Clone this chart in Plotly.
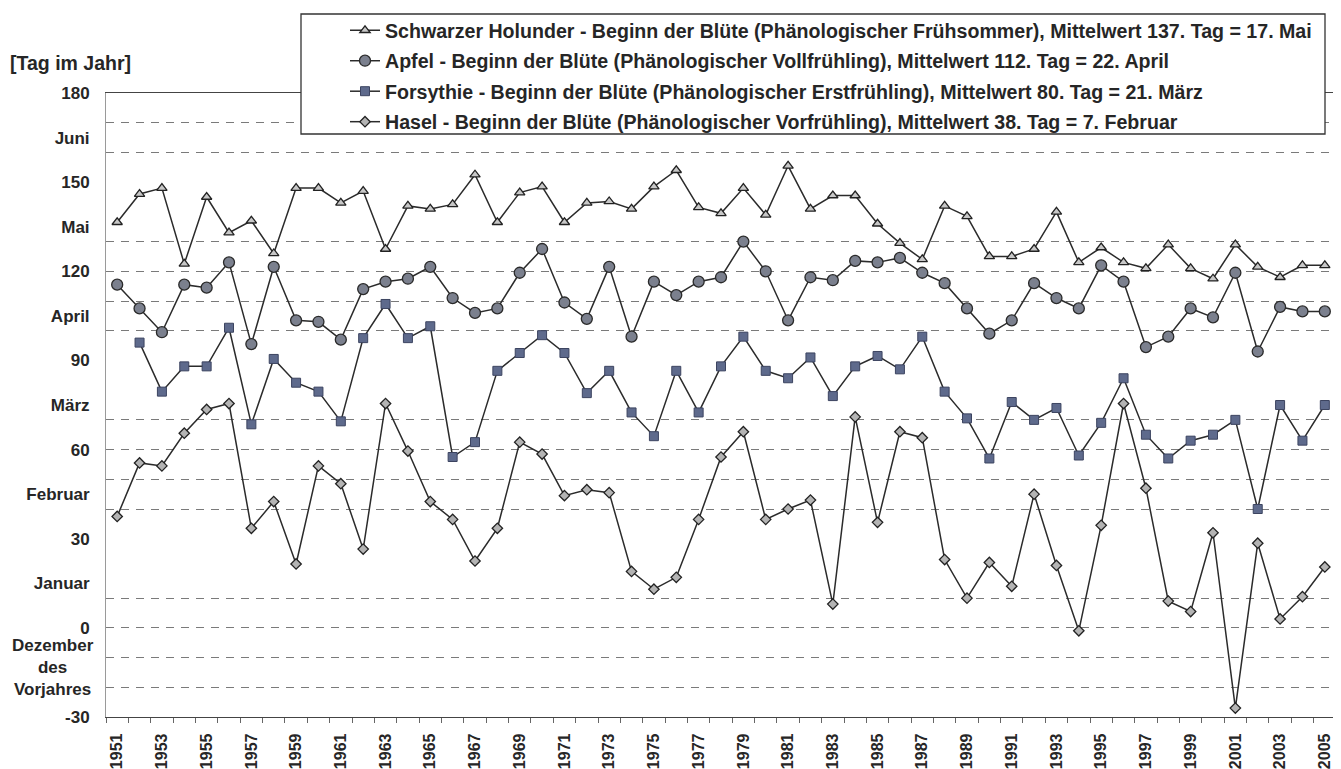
import plotly.graph_objects as go

years = list(range(1951, 2006))

holunder = [136.5, 146, 148, 122.5, 145, 133, 137, 126, 148, 148,
            143, 147, 127.5, 142, 141, 142.5, 152.5, 136.5, 146.5, 148.5,
            136.5, 143, 143.5, 141, 148.5, 154, 141.5, 139.5, 148, 139,
            155.5, 141, 145.5, 145.5, 136, 129.5, 124, 142, 138.5, 125,
            125, 127.5, 140, 123, 128, 123, 121, 129, 121, 117.5,
            129, 121.5, 118, 122, 122]

apfel = [115.5, 107.5, 99.5, 115.5, 114.5, 123, 95.5, 121.5, 103.5, 103,
         97, 114, 116.5, 117.5, 121.5, 111, 106, 107.5, 119.5, 127.5,
         109.5, 104, 121.5, 98, 116.5, 112, 116.5, 118, 130, 120,
         103.5, 118, 117, 123.5, 123, 124.5, 119.5, 116, 107.5, 99,
         103.5, 116, 111, 107.5, 122, 116.5, 94.5, 98, 107.5, 104.5,
         119.5, 93, 108, 106.5, 106.5]

forsythie = [None, 96, 79.5, 88, 88, 101, 68.5, 90.5, 82.5, 79.5,
             69.5, 97.5, 109, 97.5, 101.5, 57.5, 62.5, 86.5, 92.5, 98.5,
             92.5, 79, 86.5, 72.5, 64.5, 86.5, 72.5, 88, 98, 86.5,
             84, 91, 78, 88, 91.5, 87, 98, 79.5, 70.5, 57,
             76, 70, 74, 58, 69, 84, 65, 57, 63, 65,
             70, 40, 75, 63, 75]

hasel = [37.5, 55.5, 54.5, 65.5, 73.5, 75.5, 33.5, 42.5, 21.5, 54.5,
         48.5, 26.5, 75.5, 59.5, 42.5, 36.5, 22.5, 33.5, 62.5, 58.5,
         44.5, 46.5, 45.5, 19, 13, 17, 36.5, 57.5, 66, 36.5,
         40, 43, 8, 71, 35.5, 66, 64, 23, 10, 22,
         14, 45, 21, -1, 34.5, 75.5, 47, 9, 5.5, 32,
         -27, 28.5, 3, 10.5, 20.5]

names = [
    "Schwarzer Holunder - Beginn der Blüte (Phänologischer Frühsommer), Mittelwert 137. Tag = 17. Mai",
    "Apfel - Beginn der Blüte (Phänologischer Vollfrühling), Mittelwert 112. Tag = 22. April",
    "Forsythie - Beginn der Blüte (Phänologischer Erstfrühling), Mittelwert 80. Tag = 21. März",
    "Hasel - Beginn der Blüte (Phänologischer Vorfrühling), Mittelwert 38. Tag = 7. Februar",
]

ytick_vals = [180, 165, 150, 135, 120, 105, 90, 75, 60, 45, 30, 15, 0, -30]
ytick_text = ["180", "Juni", "150", "Mai", "120", "April", "90", "März",
              "60", "Februar", "30", "Januar", "0", "-30"]
grid_vals = [170, 160, 130, 120, 110, 100, 70, 60, 50, 40, 10, 0, -10, -20]
xtick_vals = list(range(1951, 2006, 2))

FONT = "Liberation Sans, Arial, sans-serif"
TXT = "#262626"
LINE = "#2b2b2b"

# page body has an 8px margin: figure coordinates = page coordinates - 8
OFF = 8
W, H = 1341 - OFF, 769 - OFF
PL, PT, PR, PB = 106 - OFF, 93 - OFF, 1336 - OFF, 717 - OFF
PW, PH = PR - PL, PB - PT


def px(xp):
    return (xp - OFF - PL) / PW


def py(yp):
    return 1 - (yp - OFF - PT) / PH


styles = [
    dict(symbol="triangle-up", size=9, color="#c8c8c8", line=dict(color="#222222", width=1.3)),
    dict(symbol="circle", size=11, color="#7b808e", line=dict(color="#2a2a2a", width=1.3)),
    dict(symbol="square", size=9, color="#5e6a8c", line=dict(color="#3c4460", width=1)),
    dict(symbol="diamond", size=8, color="#b4b4b4", line=dict(color="#222222", width=1.3)),
]

fig = go.Figure()
for i, (name, vals) in enumerate(zip(names, [holunder, apfel, forsythie, hasel])):
    fig.add_trace(go.Scatter(
        x=years, y=vals, name=name, mode="lines+markers",
        line=dict(color=LINE, width=1.5),
        marker=styles[i], legendgroup=f"g{i}", connectgaps=False,
    ))

# legend frame (decoration)
fig.add_shape(type="rect", xref="paper", yref="paper",
              x0=px(301), x1=px(1325), y0=py(134), y1=py(14),
              fillcolor="white", line=dict(color="#333333", width=1.3), layer="above")

fig.add_annotation(text="[Tag im Jahr]", xref="paper", yref="paper",
                   x=px(8), y=py(63), xanchor="left", yanchor="middle", showarrow=False,
                   font=dict(family=FONT, size=19.5, color=TXT, weight="bold"))
fig.add_annotation(text="Dezember<br>des<br>Vorjahres", xref="paper", yref="y",
                   x=px(53), y=-13.5, xanchor="center", yanchor="middle",
                   align="center", showarrow=False,
                   font=dict(family=FONT, size=17, color=TXT, weight="bold"))

fig.update_layout(
    width=W, height=H,
    margin=dict(l=PL, r=W - PR, t=PT, b=H - PB, autoexpand=False),
    paper_bgcolor="white", plot_bgcolor="white",
    font=dict(family=FONT, size=17, color=TXT),
    showlegend=True,
    legend=dict(x=px(345), y=py(11), xanchor="left", yanchor="top",
                bgcolor="rgba(0,0,0,0)", borderwidth=0, tracegroupgap=2,
                font=dict(family=FONT, size=19.6, color=TXT, weight="bold")),
    xaxis=dict(range=[1950.5, 2005.5], tickmode="array", tickvals=xtick_vals,
               ticktext=[str(v) for v in xtick_vals], tickangle=-90, ticks="",
               ticklabelstandoff=9, showgrid=False, zeroline=False, automargin=False,
               showline=True, linecolor="#444444", linewidth=1.3, mirror=True,
               minor=dict(ticks="outside", tick0=1950.5, dtick=1, ticklen=5,
                          tickcolor="#666666", showgrid=False),
               tickfont=dict(family=FONT, size=16, color=TXT, weight="bold")),
    yaxis=dict(range=[-30, 180], tickmode="array", tickvals=ytick_vals, ticktext=ytick_text,
               ticks="", ticklabelstandoff=12, showgrid=False, zeroline=False, automargin=False,
               showline=True, linecolor="#9a9a9a", linewidth=1, mirror=True,
               minor=dict(tickmode="array", tickvals=grid_vals, showgrid=True,
                          gridcolor="#7a7a7a", griddash="8px,7px", gridwidth=1, ticks=""),
               tickfont=dict(family=FONT, size=17, color=TXT, weight="bold")),
)

fig.write_html("out.html")
